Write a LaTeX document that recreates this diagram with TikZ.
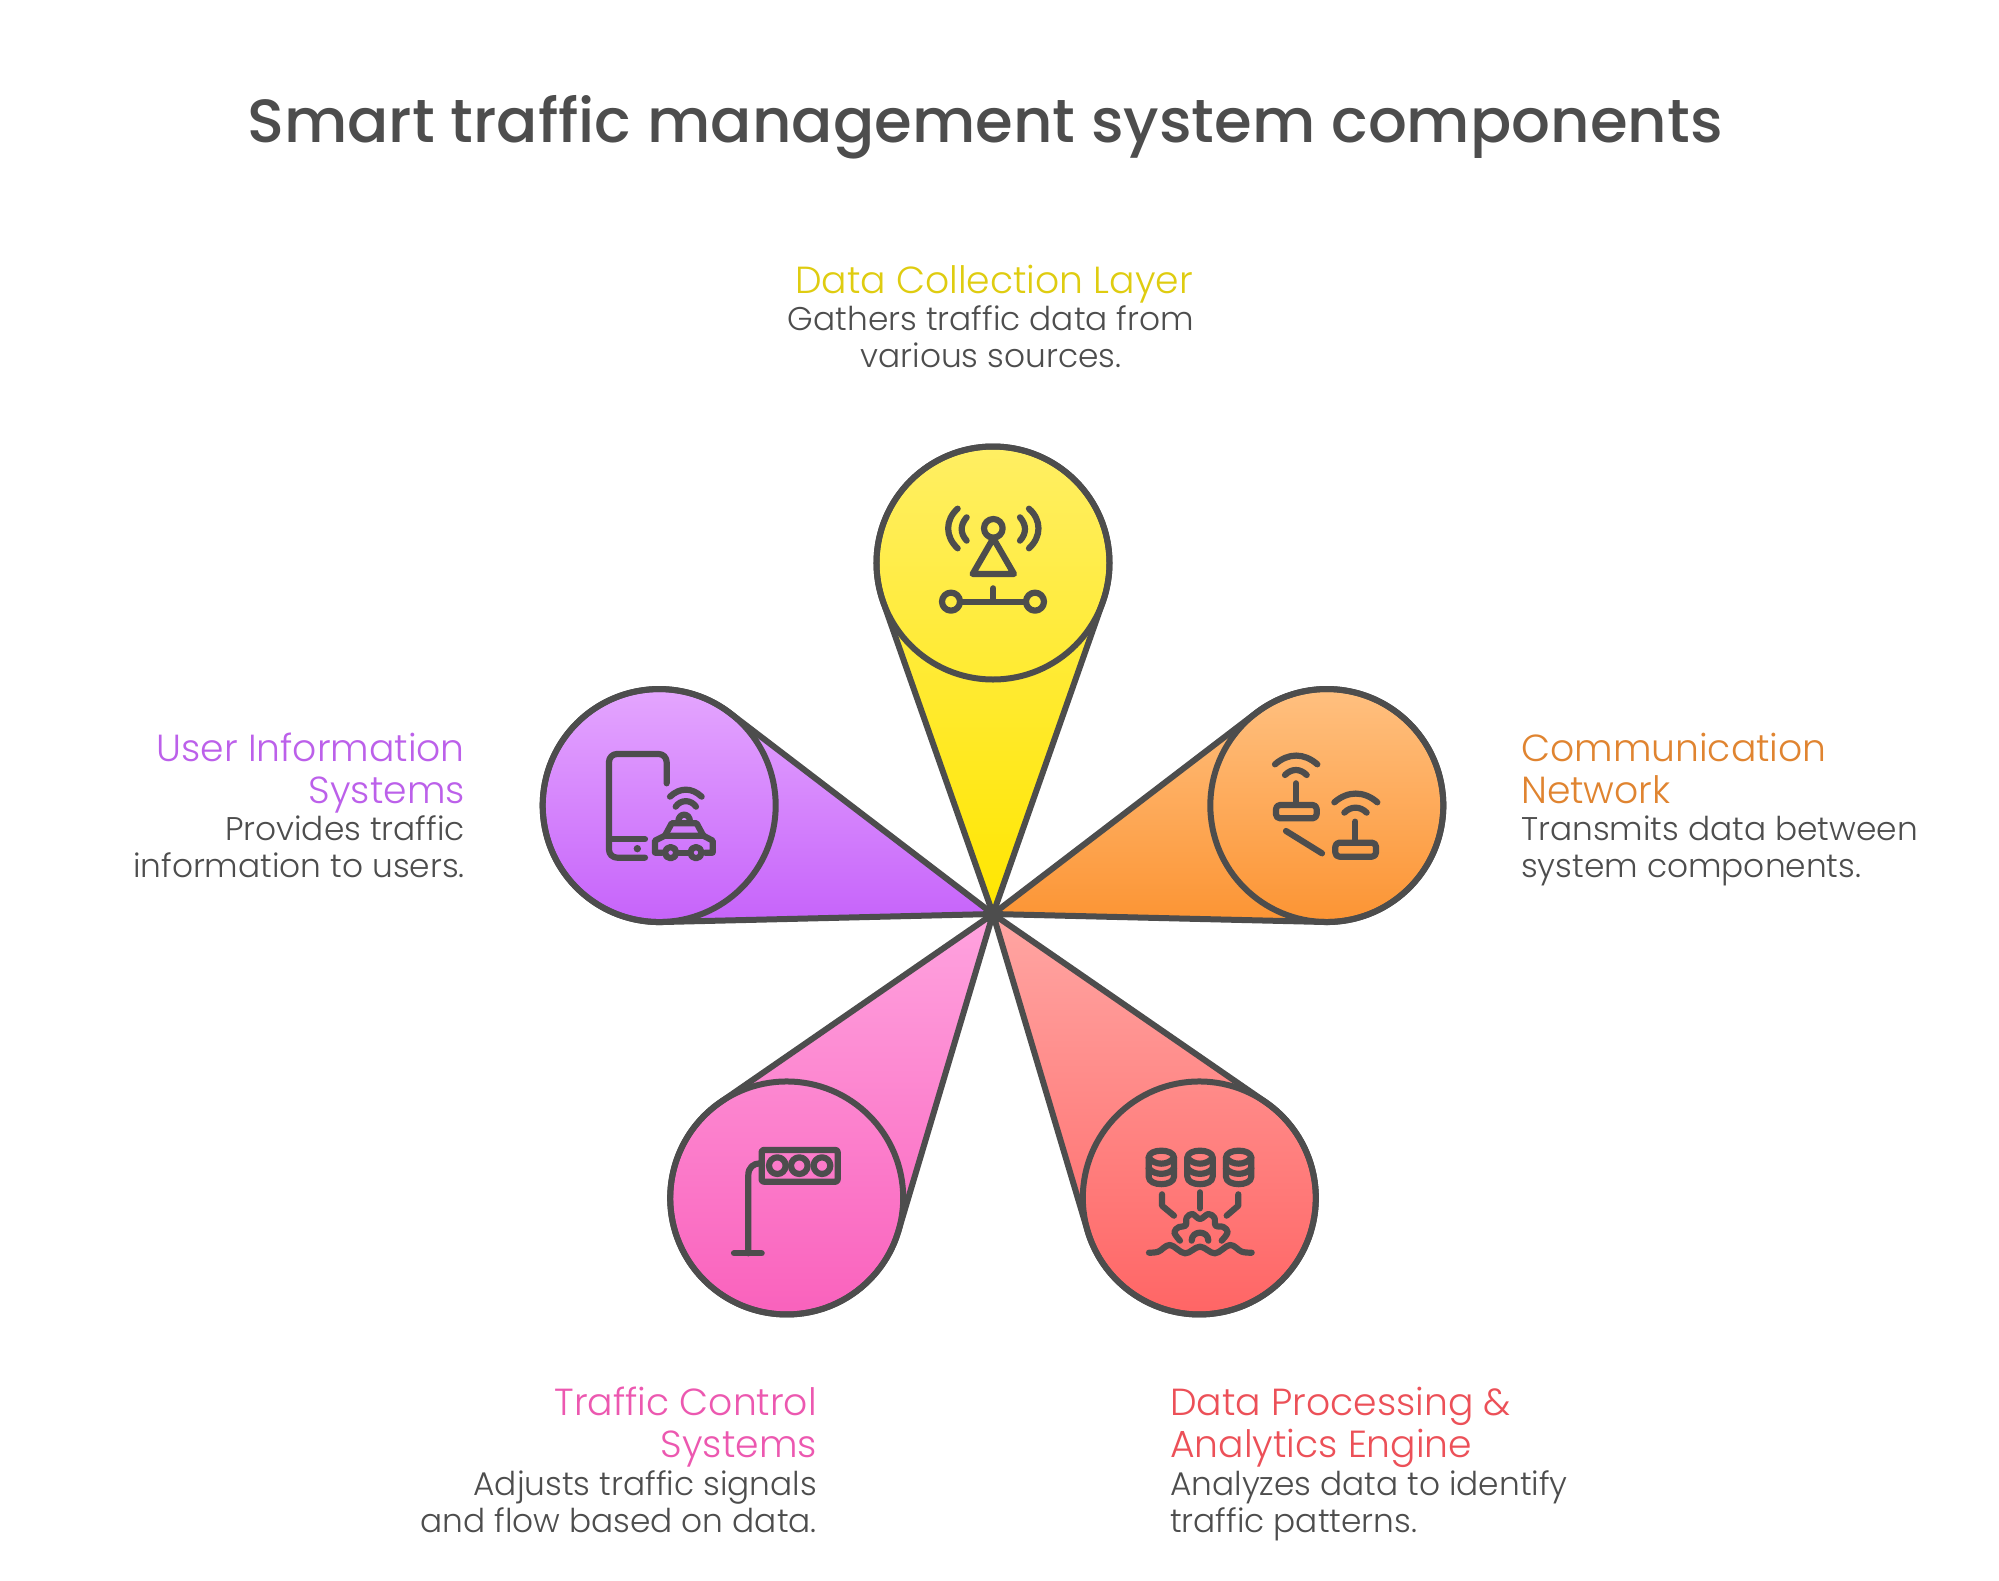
\documentclass[tikz,border=0pt]{standalone}
\usepackage{fontspec}
\setmainfont{Poppins}
\newfontfamily\lightf{Poppins Light}
\newfontfamily\medf{Poppins Medium}
\usetikzlibrary{calc}
\definecolor{ink}{HTML}{4D4D4D}
\definecolor{dcol}{HTML}{DFCC10}
\definecolor{ccol}{HTML}{E08430}
\definecolor{ucol}{HTML}{BC60EA}
\definecolor{tcol}{HTML}{EC58B0}
\definecolor{pcol}{HTML}{EC5058}
\tikzset{
  x=1pt,y=1pt,
  bubble/.style={circle,draw=ink,line width=6pt,minimum size=233pt,inner sep=0pt},
  cone/.style={draw=ink,line width=6pt,line join=round},
  ic/.style={draw=ink,line width=6.2pt,line cap=round,line join=round},
  headline/.style={inner sep=0pt,font=\lightf\fontsize{37.7}{42}\selectfont},
  body/.style={inner sep=0pt,text=ink,font=\lightf\fontsize{32.8}{36.5}\selectfont},
  zoomed/.style={x=0.3333pt,y=-0.3333pt},
}
\newcommand{\petal}[4]{%
  \path[cone,top color=#3,bottom color=#4] (hub) -- ($(hub)+(#2-19.38:331.1)$)
     arc[start angle=#2-19.38-90,end angle=#2+19.38+90,radius=116.5] -- cycle;
  \node[bubble] (#1) at ($(hub)+(#2:351)$) {};
}
\begin{document}
\begin{tikzpicture}
\useasboundingbox (0,0) rectangle (1999,-1581);
\fill[white] (0,0) rectangle (1999,-1581);
\coordinate (hub) at (993,-914);
\definecolor{ya}{HTML}{FFEF66}\definecolor{yb}{HTML}{FFE600}
\definecolor{oa}{HTML}{FFC080}\definecolor{ob}{HTML}{FC9433}
\definecolor{ra}{HTML}{FFA6A3}\definecolor{rb}{HTML}{FF6363}
\definecolor{pa}{HTML}{FFA3DF}\definecolor{pb}{HTML}{F95FBB}
\definecolor{ua}{HTML}{E6AAFF}\definecolor{ub}{HTML}{C663FA}
\petal{pUser}{162}{ua}{ub}
\petal{pComm}{18}{oa}{ob}
\petal{pCtrl}{-126}{pa}{pb}
\petal{pProc}{-54}{ra}{rb}
\petal{pData}{90}{ya}{yb}

% title
\node[inner sep=0pt,anchor=base,text=ink,font=\medf\fontsize{61}{70}\selectfont] (title) at (985,-143) {Smart traffic management system components};

% labels (the base anchor of a multi-line node is its last line)
\node[headline,anchor=base,text=dcol,align=center] (hData) at (994,-293) {Data Collection Layer};
\node[body,anchor=base,align=center] (dData) at (991,-367) {Gathers traffic data from\\various sources.};
\node[headline,anchor=base west,text=ccol,align=left] (hComm) at (1521,-803) {Communication\\Network};
\node[body,anchor=base west,align=left] (dComm) at (1521,-877) {Transmits data between\\system components.};
\node[headline,anchor=base east,text=ucol,align=right] (hUser) at (465,-803) {User Information\\Systems};
\node[body,anchor=base east,align=right] (dUser) at (465,-877) {Provides traffic\\information to users.};
\node[headline,anchor=base east,text=tcol,align=right] (hCtrl) at (817,-1457) {Traffic Control\\Systems};
\node[body,anchor=base east,align=right] (dCtrl) at (817,-1532) {Adjusts traffic signals\\and flow based on data.};
\node[headline,anchor=base west,text=pcol,align=left] (hProc) at (1170,-1457) {Data Processing \&\\Analytics Engine};
\node[body,anchor=base west,align=left] (dProc) at (1170,-1532) {Analyzes data to identify\\traffic patterns.};

% icon: data collection
\begin{scope}[shift={(860,-430)},zoomed]
\draw[ic] (400,295) circle[radius=28];
\draw[ic] (400,325) -- (338,432) -- (462,432) -- cycle;
\draw[ic] (320,262) .. controls (300,285) and (300,310) .. (320,332);
\draw[ic] (293,236) .. controls (255,270) and (255,320) .. (293,355);
\draw[ic] (480,262) .. controls (500,285) and (500,310) .. (480,332);
\draw[ic] (507,236) .. controls (545,270) and (545,320) .. (507,355);
\draw[ic] (273,515) circle[radius=27];
\draw[ic] (525,515) circle[radius=27];
\draw[ic] (300,515) -- (498,515);
\draw[ic] (400,475) -- (400,515);
\end{scope}

% icon: communication network
\begin{scope}[shift={(1200,-680)},zoomed]
\draw[ic] (225,253) .. controls (265,218) and (312,218) .. (352,253);
\draw[ic] (255,285) .. controls (275,265) and (300,265) .. (320,285);
\draw[ic] (288,310) -- (288,375);
\draw[ic,rounded corners=4pt] (228,375) rectangle (350,415);
\draw[ic] (403,367) .. controls (443,332) and (492,332) .. (532,367);
\draw[ic] (433,398) .. controls (453,378) and (480,378) .. (500,398);
\draw[ic] (466,425) -- (466,488);
\draw[ic,rounded corners=4pt] (406,488) rectangle (528,530);
\draw[ic] (258,453) -- (366,520);
\end{scope}

% icon: processing
\begin{scope}[shift={(1075,-1075)},zoomed]
\foreach \cx in {259,375,491}{
  \draw[ic] (\cx-38,248) .. controls (\cx-38,220) and (\cx+38,220) .. (\cx+38,248) -- (\cx+38,305)
     .. controls (\cx+38,335) and (\cx-38,335) .. (\cx-38,305) -- cycle;
  \draw[ic] (\cx-38,248) .. controls (\cx-20,272) and (\cx+20,272) .. (\cx+38,248);
  \draw[ic] (\cx-38,280) .. controls (\cx-20,302) and (\cx+20,302) .. (\cx+38,280);
}
\draw[ic] (261,358) -- (261,392) -- (297,422);
\draw[ic] (375,352) -- (375,400);
\draw[ic] (490,358) -- (490,392) -- (455,422);
\draw[ic] plot[smooth,tension=0.6] coordinates {(315,497) (298,472) (312,456) (332,452) (335,428) (352,417) (375,432) (400,417) (418,428) (422,452) (445,456) (458,472) (440,497)};
\draw[ic] (350,497) .. controls (350,465) and (400,465) .. (400,497);
\draw[ic] plot[smooth,tension=0.6] coordinates {(222,533) (250,530) (285,510) (330,535) (375,515) (420,535) (465,510) (500,530) (530,533)};
\end{scope}

% icon: traffic control
\begin{scope}[shift={(660,-1075)},zoomed]
\draw[ic,rounded corners=2pt] (305,225) rectangle (533,320);
\foreach \cx in {352,418,486}{\draw[ic] (\cx,272) circle[radius=25];}
\draw[ic] (300,265) .. controls (280,265) and (265,278) .. (265,300) -- (265,535);
\draw[ic] (222,535) -- (305,535);
\end{scope}

% icon: user information
\begin{scope}[shift={(530,-680)},zoomed]
\draw[ic,rounded corners=8pt] (410,310) -- (410,222) -- (237,222) -- (237,533) -- (345,533);
\draw[ic] (237,478) -- (345,478);
\fill[ink] (322,506) circle[radius=11];
\draw[ic] (420,350) .. controls (450,322) and (485,322) .. (515,350);
\draw[ic] (437,380) .. controls (452,358) and (483,358) .. (498,380);
\draw[ic] (445,425) .. controls (445,397) and (480,397) .. (480,425);
\draw[ic] (405,467) -- (425,430) -- (500,430) -- (520,467);
\draw[ic] (397,518) -- (375,518) -- (375,482) -- (405,467) -- (520,467) -- (548,482) -- (548,518) -- (525,518);
\draw[ic] (422,518) circle[radius=17];
\draw[ic] (498,518) circle[radius=17];
\draw[ic] (440,518) -- (480,518);
\end{scope}
\end{tikzpicture}
\end{document}
